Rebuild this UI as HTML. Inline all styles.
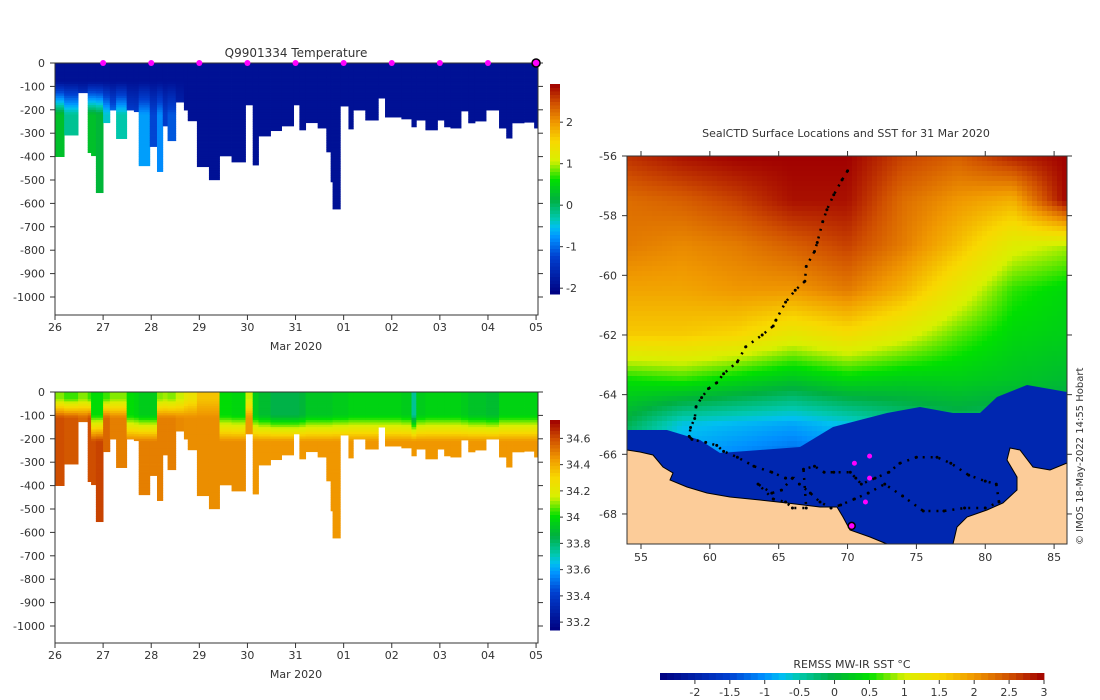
<!DOCTYPE html>
<html><head><meta charset="utf-8"><style>
body{margin:0;background:#fff;}
svg{display:block;font-family:"DejaVu Sans","Liberation Sans",sans-serif;}
text{fill:#333;font-size:11px;}
</style></head><body>
<svg id="root" width="1100" height="700" viewBox="0 0 1100 700">
<g id="gT"></g>
<g id="gS"></g>
<g id="gM"></g>
<text x="296" y="57" text-anchor="middle" style="font-size:12px">Q9901334  Temperature</text>
<text x="846" y="137" text-anchor="middle" style="font-size:11px">SealCTD Surface Locations and SST for 31 Mar 2020</text>
<text x="296" y="350" text-anchor="middle">Mar 2020</text>
<text x="296" y="678" text-anchor="middle">Mar 2020</text>
<text x="852" y="668" text-anchor="middle">REMSS MW-IR SST °C</text>
<text transform="translate(1083,545) rotate(-90)" style="font-size:10px">© IMOS 18-May-2022 14:55 Hobart</text>
</svg>
<script>
// ---- profile data ----
const colStartDay=[0,.19,.48,.68,.75,.85,1.00,1.14,1.27,1.49,1.64,1.74,1.97,2.12,2.24,2.34,2.51,2.68,2.76,2.95,3.20,3.42,3.67,3.96,4.11,4.23,4.48,4.71,4.96,5.08,5.21,5.46,5.64,5.73,5.77,5.93,6.10,6.20,6.45,6.72,6.86,7.20,7.41,7.51,7.70,7.95,8.09,8.22,8.44,8.59,8.73,8.96,9.23,9.38,9.50,9.75,9.96,10.04];
const maxDepth=[400,308,127,383,396,554,255,201,323,201,208,439,357,464,269,332,167,201,247,443,499,397,423,179,436,312,289,269,179,286,255,278,380,508,624,184,282,201,244,150,231,239,273,244,286,244,273,278,205,256,248,201,278,321,256,253,278];
const deepT=[0.3,-0.2,-1.5,0.3,0.3,0.2,-0.4,-1.0,-0.3,-1.3,-1.3,-0.7,-1.2,-0.8,-1.3,-1.1,-1.7,-1.9,-1.9,-1.9,-1.9,-1.9,-1.9,-1.9,-1.9,-1.9,-1.9,-1.9,-1.9,-1.9,-1.9,-1.9,-1.9,-1.9,-1.9,-1.9,-1.9,-1.9,-1.9,-1.9,-1.9,-1.9,-1.9,-1.9,-1.9,-1.9,-1.9,-1.9,-1.9,-1.9,-1.9,-1.9,-1.9,-1.9,-1.9,-1.9,-1.9];
const surfS=[34.1,34.05,34.1,34.05,34.0,34.0,34.05,34.1,34.1,34.0,33.98,33.95,33.95,34.1,34.12,34.1,34.15,34.22,34.25,34.35,34.35,34.0,33.98,34.15,33.95,33.9,33.85,33.85,33.85,33.88,33.93,33.93,33.93,33.93,33.95,33.95,33.97,33.97,33.97,33.97,33.97,33.95,33.75,33.95,33.97,33.97,33.97,33.97,33.95,33.92,33.92,33.9,33.97,33.97,33.97,33.97,33.97];
const deepS=[34.6,34.58,34.55,34.6,34.6,34.62,34.55,34.5,34.5,34.5,34.5,34.5,34.5,34.5,34.5,34.5,34.48,34.47,34.47,34.47,34.47,34.47,34.47,34.45,34.45,34.45,34.45,34.45,34.45,34.45,34.45,34.45,34.45,34.45,34.45,34.45,34.45,34.45,34.45,34.45,34.45,34.45,34.45,34.45,34.45,34.45,34.45,34.45,34.45,34.45,34.45,34.45,34.45,34.45,34.45,34.45,34.45];
const markerDays=[1,2,3,4,5,6,7,8,9];
const dayLabels=["26","27","28","29","30","31","01","02","03","04","05"];
const depthTicks=[0,-100,-200,-300,-400,-500,-600,-700,-800,-900,-1000];
const tTicks=[2,1,0,-1,-2];
const sTicks=[34.6,34.4,34.2,34,33.8,33.6,33.4,33.2];
// ---- map data ----
const gridLat=[-56,-57.5,-59,-60.5,-62,-63.5,-65,-66.5,-69];
const gridLon=[54,58,62,66,70,74,78,82,86];
const sstGrid=[
[2.7,2.9,3,3,3,2.6,2.4,2.8,3],
[2.3,2.4,2.6,2.9,2.9,2.3,2.0,1.8,3],
[2.2,2.1,2.2,2.4,2.6,2.2,1.7,1.1,0.9],
[1.9,1.9,2.0,2.0,2.2,1.8,1.2,0.6,0.4],
[1.6,1.6,1.5,1.2,1.4,1.1,0.7,0.4,0.3],
[0.5,0.6,0.4,0.2,0.4,0.3,0.3,0.2,0.1],
[-0.1,-0.7,-0.8,-0.9,-0.7,-0.4,-0.2,-0.3,-0.3],
[-0.6,-1.0,-1.2,-1.4,-1.2,-1,-1,-1,-1],
[-0.6,-1.0,-1.2,-1.4,-1.2,-1,-1,-1,-1]];
const trackLon=[70.0,69.6,69.0,68.5,68.2,67.8,67.6,67.0,66.9,66.2,65.5,64.8,64.6,63.8,62.6,62.0,61.0,60.5,59.9,59.4,59.0,58.9,58.6,58.5,58.7,59.7,60.5,61.0,62.0,63.2,64.5,65.5,66.0,65.2,64.5,63.5,64.6,65.5,66.0,67.0,66.8,67.6,68.3,69.0,70.2,70.6,71.0,72.0,73.0,73.8,75.0,76.5,77.5,78.8,80.0,80.8,81.0,80.0,78.5,77.0,75.5,74.0,72.7,71.5,70.5,69.5,68.8,68.0,67.3,66.5];
const trackLat=[-56.5,-56.8,-57.3,-57.8,-58.2,-58.9,-59.2,-59.7,-60.2,-60.5,-60.9,-61.5,-61.7,-62.0,-62.4,-62.9,-63.3,-63.6,-63.8,-64.1,-64.4,-64.8,-65.1,-65.4,-65.5,-65.6,-65.7,-65.9,-66.1,-66.4,-66.6,-66.8,-66.8,-67.2,-67.3,-67.0,-67.5,-67.6,-67.8,-67.8,-66.5,-66.4,-66.6,-66.6,-66.6,-66.8,-67.0,-66.8,-66.6,-66.3,-66.1,-66.1,-66.3,-66.7,-66.9,-67.0,-67.6,-67.8,-67.8,-67.9,-67.9,-67.4,-67.0,-67.3,-67.5,-67.7,-67.8,-67.6,-67.3,-67.0];
const recentLon=[70.5,71.6,71.6,71.3];
const recentLat=[-66.3,-66.06,-66.8,-67.6];
const lastLon=70.3, lastLat=-68.4;
const sstTicks=[-2,-1.5,-1,-0.5,0,0.5,1,1.5,2,2.5,3];

const NS="http://www.w3.org/2000/svg";
function mk(p,tag,a){const e=document.createElementNS(NS,tag);for(const k in a)e.setAttribute(k,a[k]);p.appendChild(e);return e;}
const stops=[[0,[0,0,128]],[0.18,[0,64,208]],[0.27,[0,144,255]],[0.32,[0,192,240]],[0.36,[0,200,176]],[0.45,[0,176,64]],[0.545,[0,224,0]],[0.636,[216,240,0]],[0.727,[248,216,0]],[0.818,[240,152,0]],[0.91,[208,80,0]],[1,[160,0,0]]];
function cmap(t){t=Math.max(0,Math.min(1,t));for(let i=1;i<stops.length;i++){if(t<=stops[i][0]){const a=stops[i-1],b=stops[i];const f=(t-a[0])/(b[0]-a[0]);const c=a[1].map((v,j)=>Math.round(v+(b[1][j]-v)*f));return `rgb(${c})`;}}return 'rgb(160,0,0)';}

function section(g,top,bottom,vmin,vmax,valFn,ticks,cbTop,cbBot,isTop){
  const x0=55,x1=538,y0=top;const ys=0.234;
  const X=d=>x0+d*(x1-x0)/10.04;
  const Y=z=>y0+z*ys;
  for(let i=0;i<maxDepth.length;i++){
    const xa=X(colStartDay[i]),xb=X(colStartDay[i+1]);
    for(let z=0;z<maxDepth[i];z+=10){
      const r=mk(g,'rect',{x:xa,y:Y(z),width:xb-xa+0.4,height:Math.min(10,maxDepth[i]-z)*ys+0.4,fill:cmap((valFn(i,z+5)-vmin)/(vmax-vmin))});
      
      
    }
  }
  const fr=mk(g,'rect',{x:x0,y:top,width:x1-x0,height:bottom-top,fill:'none',stroke:'#333','stroke-width':1});
  
  depthTicks.forEach(d=>{const y=Y(-d);mk(g,'line',{x1:x0-5,x2:x0,y1:y,y2:y,stroke:'#333'});mk(g,'line',{x1:x1,x2:x1+5,y1:y,y2:y,stroke:'#333'});
    const t=mk(g,'text',{x:x0-10,y:y+4,'text-anchor':'end'});t.textContent=d;});
  dayLabels.forEach((l,i)=>{const x=X(i);mk(g,'line',{x1:x,x2:x,y1:bottom,y2:bottom+5,stroke:'#333'});
    const t=mk(g,'text',{x:x,y:bottom+16,'text-anchor':'middle'});t.textContent=l;});
  const cb=mk(g,'g',{});
  const n=60;for(let k=0;k<n;k++){const y=cbBot-(k+1)*(cbBot-cbTop)/n;mk(cb,'rect',{x:550,y:y,width:10,height:(cbBot-cbTop)/n+0.5,fill:cmap((k+0.5)/n)});}
  ticks.forEach(v=>{const y=cbBot-(v-vmin)/(vmax-vmin)*(cbBot-cbTop);mk(cb,'line',{x1:560,x2:563,y1:y,y2:y,stroke:'#333'});
    const t=mk(cb,'text',{x:566,y:y+4});t.textContent=v;});
  if(isTop){markerDays.forEach(d=>{const c=mk(g,'circle',{cx:X(d),cy:top,r:3,fill:'#f0f'});});
    const c=mk(g,'circle',{cx:X(10),cy:top,r:4,fill:'#f0f',stroke:'#000','stroke-width':1.5});}
}
const tempFn=(i,z)=>{const s=-1.9;if(z<80)return s;const zb=Math.max(100,Math.min(220,maxDepth[i]));if(z>=zb)return deepT[i];return s+(deepT[i]-s)*(z-80)/(zb-80);};
const salFn=(i,z)=>{const shallow=surfS[i]>=34.05;const a=shallow?30:100,b=shallow?110:210;if(z<a)return surfS[i];if(z>=b)return deepS[i];return surfS[i]+(deepS[i]-surfS[i])*(z-a)/(b-a);};
section(document.getElementById('gT'),63,315,-2.14,2.92,tempFn,tTicks,84,294,true);
section(document.getElementById('gS'),392,643,33.14,34.74,salFn,sTicks,420,630,false);

// ---- map ----
const gM=document.getElementById('gM');
const LX=lon=>641+(lon-55)*13.77, LY=lat=>156+(-56-lat)*29.83;
const sv=v=>cmap((v+2.5)/5.5);
function sstAt(lat,lon){let r=0;while(r<gridLat.length-2&&lat<gridLat[r+1])r++;let c=0;while(c<gridLon.length-2&&lon>gridLon[c+1])c++;
  const fy=(lat-gridLat[r])/(gridLat[r+1]-gridLat[r]),fx=(lon-gridLon[c])/(gridLon[c+1]-gridLon[c]);
  const a=sstGrid[r][c],b=sstGrid[r][c+1],d=sstGrid[r+1][c],e=sstGrid[r+1][c+1];return (a*(1-fx)+b*fx)*(1-fy)+(d*(1-fx)+e*fx)*fy;}
const step=5;
for(let y=156;y<544;y+=step)for(let x=627;x<1067;x+=step){const lon=55+(x+step/2-641)/13.77,lat=-56-(y+step/2-156)/29.83;
  const r=mk(gM,'rect',{x:x,y:y,width:Math.min(step,1067-x)+0.3,height:Math.min(step,544-y)+0.3,fill:sv(sstAt(lat,lon))});
  }
const ice=mk(gM,'polygon',{points:"627,430 667,430 700,440 720,453 760,450 800,447 833,427 887,413 920,407 953,413 980,413 997,397 1027,385 1067,392 1067,544 627,544",fill:sv(-1.9)});

const land1=mk(gM,'polygon',{points:"627,450 640,452 653,455 663,467 673,473 670,480 687,487 707,493 730,497 760,500 787,503 820,507 837,507 843,517 850,530 870,537 887,544 627,544",fill:'#fccc99',stroke:'#000','stroke-width':1});

const land2=mk(gM,'polygon',{points:"953,544 957,527 967,517 987,510 1003,503 1017,490 1017,477 1007,460 1010,448 1020,450 1033,467 1050,470 1067,463 1067,544",fill:'#fccc99',stroke:'#000','stroke-width':1});

const tr=mk(gM,'polyline',{points:trackLon.map((l,i)=>LX(l)+','+LY(trackLat[i])).join(' '),fill:'none',stroke:'#000','stroke-width':2.5,'stroke-dasharray':'2 6'});

trackLon.forEach((l,i)=>{const c=mk(gM,'circle',{cx:LX(l),cy:LY(trackLat[i]),r:1.5,fill:'#000'});});
recentLon.forEach((l,i)=>{const c=mk(gM,'circle',{cx:LX(l),cy:LY(recentLat[i]),r:2.5,fill:'#f0f'});});
const lc=mk(gM,'circle',{cx:LX(lastLon),cy:LY(lastLat),r:3.5,fill:'#f0f',stroke:'#000','stroke-width':1.5});
const mf=mk(gM,'rect',{x:627,y:156,width:440,height:388,fill:'none',stroke:'#333'});
[55,60,65,70,75,80,85].forEach(l=>{const x=LX(l);mk(gM,'line',{x1:x,x2:x,y1:544,y2:549,stroke:'#333'});mk(gM,'line',{x1:x,x2:x,y1:156,y2:151,stroke:'#333'});
  const t=mk(gM,'text',{x:x,y:561,'text-anchor':'middle'});t.textContent=l;});
[-56,-58,-60,-62,-64,-66,-68].forEach(l=>{const y=LY(l);mk(gM,'line',{x1:622,x2:627,y1:y,y2:y,stroke:'#333'});mk(gM,'line',{x1:1067,x2:1072,y1:y,y2:y,stroke:'#333'});
  const t=mk(gM,'text',{x:617,y:y+4,'text-anchor':'end'});t.textContent=l;});
const hc=mk(gM,'g',{});
const CX=v=>660+(v+2.5)*(1044-660)/5.5;
for(let k=0;k<55;k++){const v=-2.5+k*0.1;mk(hc,'rect',{x:CX(v),y:673,width:CX(v+0.1)-CX(v)+0.4,height:7,fill:sv(v+0.05)});}
sstTicks.forEach(v=>{const x=CX(v);mk(hc,'line',{x1:x,x2:x,y1:680,y2:684,stroke:'#333'});
  const t=mk(hc,'text',{x:x,y:696,'text-anchor':'middle'});t.textContent=v;});
</script>
</body></html>
